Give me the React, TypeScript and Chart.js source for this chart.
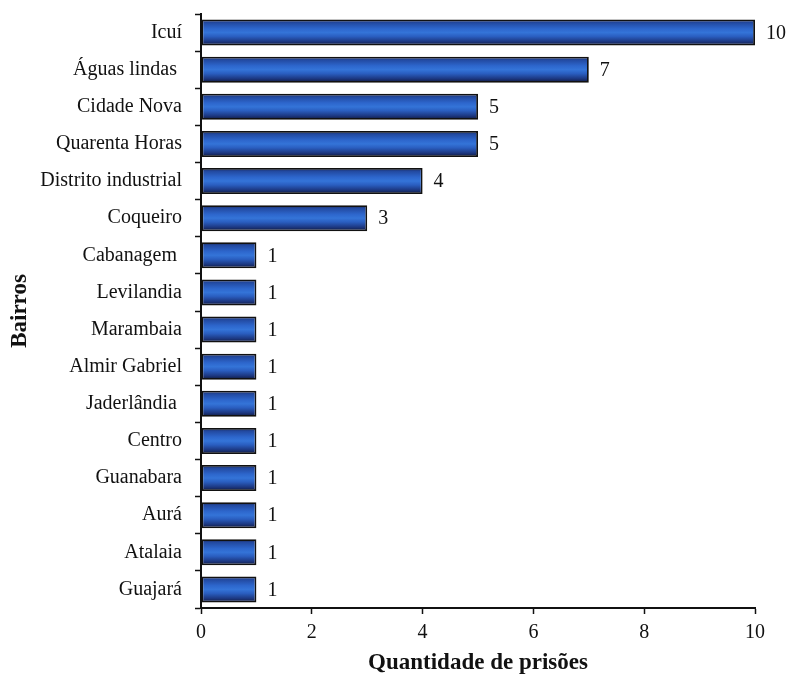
import React, { useEffect, useRef } from "react";
import { Chart, registerables } from "chart.js";

Chart.register(...registerables);

const categories = [
  "Icuí",
  "Águas lindas ",
  "Cidade Nova",
  "Quarenta Horas",
  "Distrito industrial",
  "Coqueiro",
  "Cabanagem ",
  "Levilandia",
  "Marambaia",
  "Almir Gabriel",
  "Jaderlândia ",
  "Centro",
  "Guanabara",
  "Aurá",
  "Atalaia",
  "Guajará",
];
const prisoes = [10, 7, 5, 5, 4, 3, 1, 1, 1, 1, 1, 1, 1, 1, 1, 1];
const xTitle = "Quantidade de prisões";
const yTitle = "Bairros";

const SERIF = "'Liberation Serif', 'Times New Roman', serif";
const BAR_PCT = 0.7;

const valueLabels = {
  id: "valueLabels",
  afterDatasetsDraw(chart: any) {
    const ctx = chart.ctx;
    const meta = chart.getDatasetMeta(0);
    ctx.save();
    ctx.font = `20px ${SERIF}`;
    ctx.fillStyle = "#111";
    ctx.textAlign = "left";
    ctx.textBaseline = "middle";
    meta.data.forEach((el: any, i: number) => {
      ctx.fillText(String(prisoes[i]), el.x + 11, el.y + 1);
    });
    ctx.restore();
  },
};

export default function App() {
  const ref = useRef<HTMLCanvasElement | null>(null);
  useEffect(() => {
    document.body.style.margin = "0";
    const canvas = ref.current!;
    const chart = new Chart(canvas, {
      type: "bar",
      data: {
        labels: categories,
        datasets: [
          {
            data: prisoes,
            backgroundColor: (c: any) => {
              const ch = c.chart;
              const area = ch.chartArea;
              if (!area) return "#2a5cc0";
              const ys = ch.scales.y;
              const yc = ys.getPixelForValue(c.dataIndex);
              const half = ((area.bottom - area.top) / categories.length) * BAR_PCT / 2;
              const g = ch.ctx.createLinearGradient(0, yc - half, 0, yc + half);
              g.addColorStop(0, "#1a2550");
              g.addColorStop(0.12, "#2249a0");
              g.addColorStop(0.35, "#2d66cc");
              g.addColorStop(0.5, "#3474d8");
              g.addColorStop(0.65, "#2a5ec0");
              g.addColorStop(0.85, "#1c3780");
              g.addColorStop(1, "#0f1738");
              return g;
            },
            borderColor: "#111",
            borderWidth: 1.8,
            borderSkipped: false,
            barPercentage: BAR_PCT,
            categoryPercentage: 1,
          },
        ],
      },
      options: {
        indexAxis: "y",
        animation: false,
        responsive: false,
        maintainAspectRatio: false,
        layout: { padding: { left: 0, right: 33, top: 14, bottom: 0 } },
        plugins: {
          legend: { display: false },
          tooltip: { enabled: false },
        },
        scales: {
          x: {
            min: 0,
            max: 10,
            ticks: {
              stepSize: 2,
              color: "#111",
              font: { family: SERIF, size: 20 },
              padding: 7,
            },
            grid: {
              drawOnChartArea: false,
              drawTicks: true,
              tickLength: 6,
              tickColor: "#111",
              tickWidth: 1.5,
            },
            border: { color: "#111", width: 2 },
            title: {
              display: true,
              text: xTitle,
              color: "#111",
              font: { family: SERIF, size: 23, weight: "bold" },
              padding: { top: 0, bottom: 0 },
            },
            afterFit(scale: any) {
              scale.height = 69;
              scale.paddingLeft = 0;
              scale.paddingRight = 0;
            },
          },
          y: {
            ticks: {
              color: "#111",
              font: { family: SERIF, size: 20 },
              padding: 13,
            },
            grid: {
              offset: true,
              drawOnChartArea: false,
              drawTicks: true,
              tickLength: 6,
              tickColor: "#111",
              tickWidth: 1.5,
            },
            border: { color: "#111", width: 2 },
            title: {
              display: true,
              text: yTitle,
              color: "#111",
              font: { family: SERIF, size: 23, weight: "bold" },
              padding: { top: 6, bottom: 0 },
            },
            afterFit(scale: any) {
              scale.width = 201;
              scale.paddingTop = 0;
              scale.paddingBottom = 0;
            },
          },
        },
      },
      plugins: [valueLabels],
    } as any);
    return () => chart.destroy();
  }, []);
  return (
    <div style={{ width: 788, height: 677, background: "#fff" }}>
      <canvas ref={ref} width={788} height={677} style={{ display: "block" }} />
    </div>
  );
}
